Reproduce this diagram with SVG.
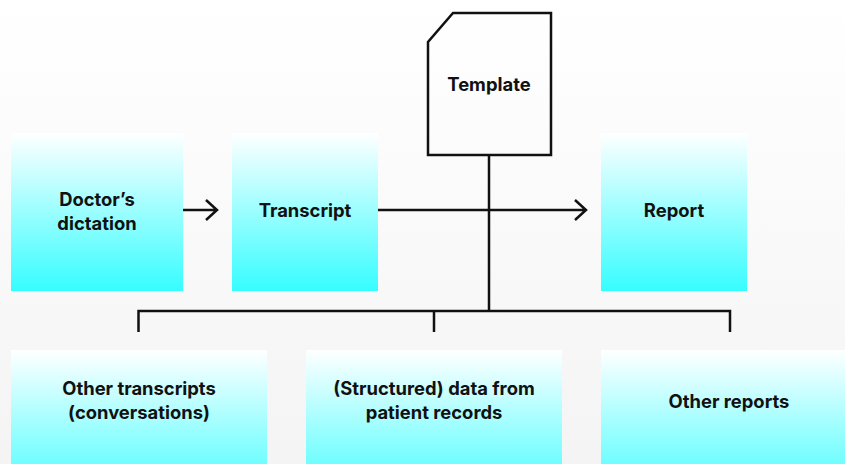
<svg xmlns="http://www.w3.org/2000/svg" width="845" height="464" viewBox="0 0 845 464">
<defs>
<linearGradient id="bg" x1="0" y1="0" x2="0" y2="1">
<stop offset="0" stop-color="#ffffff"/>
<stop offset="1" stop-color="#f4f4f4"/>
</linearGradient>
<linearGradient id="cy" x1="0" y1="0" x2="0" y2="1">
<stop offset="0" stop-color="#ffffff"/>
<stop offset="1" stop-color="#36fdff"/>
</linearGradient>
<style>
.box{fill:url(#cy);}
.t{font-family:Inter,"Liberation Sans",sans-serif;font-weight:700;font-size:18.4px;fill:#111;text-anchor:middle;}
.ln{fill:none;stroke:#111;stroke-width:2.5;}
</style>
</defs>
<rect width="845" height="464" fill="url(#bg)"/>
<g id="dictation">
<rect class="box" x="11" y="133" width="172" height="158"/>
<text class="t" x="97" y="206">Doctor’s</text>
<text class="t" x="97" y="230">dictation</text>
</g>
<g id="transcript">
<rect class="box" x="232" y="133" width="146" height="158"/>
<text class="t" x="305" y="217">Transcript</text>
</g>
<g id="report">
<rect class="box" x="601" y="133" width="146" height="158"/>
<text class="t" x="674" y="217">Report</text>
</g>
<g id="template">
<path class="ln" d="M453 13 L551 13 L551 155 L428 155 L428 42 Z" fill="#fff"/>
<text class="t" x="489" y="91">Template</text>
</g>
<g id="other-transcripts">
<rect class="box" x="11" y="350" width="256" height="160"/>
<text class="t" x="139" y="395">Other transcripts</text>
<text class="t" x="139" y="419">(conversations)</text>
</g>
<g id="structured-data">
<rect class="box" x="306" y="350" width="256" height="160"/>
<text class="t" x="434" y="395">(Structured) data from</text>
<text class="t" x="434" y="419">patient records</text>
</g>
<g id="other-reports">
<rect class="box" x="601" y="350" width="256" height="160"/>
<text class="t" x="729" y="408">Other reports</text>
</g>
<g id="connectors">
<path class="ln" d="M183 210 H217 M206 200 L217 210 L206 220"/>
<path class="ln" d="M378 210 H586 M575 200 L586 210 L575 220"/>
<path class="ln" d="M489 155 V311 M138.5 332 V311 H730 V332 M434 311 V332"/>
</g>
</svg>
